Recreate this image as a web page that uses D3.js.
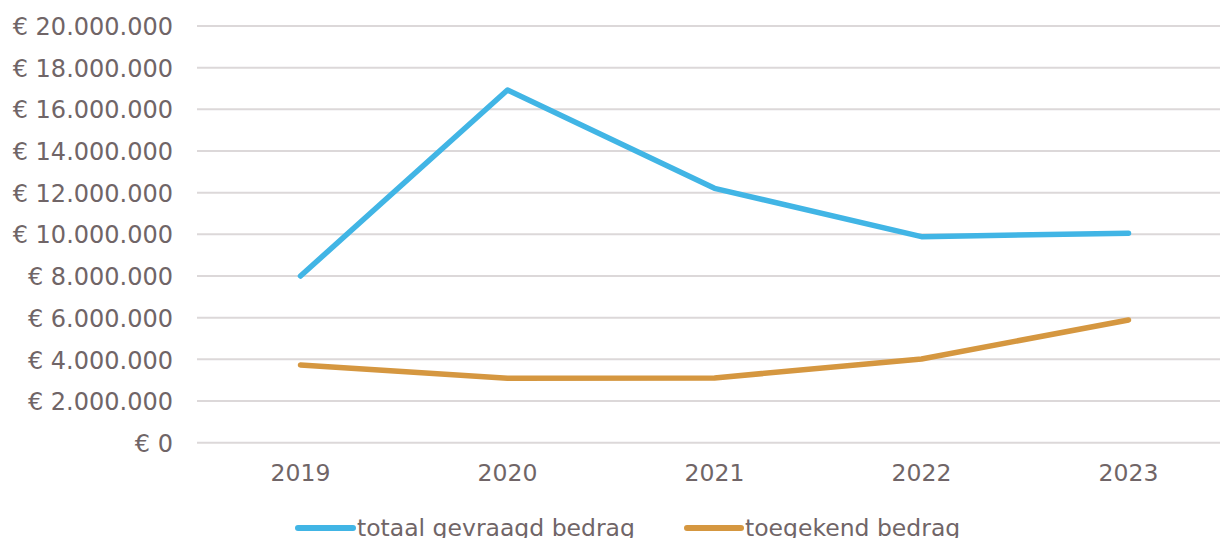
<!DOCTYPE html>
<html>
<head>
<meta charset="utf-8">
<script src="https://cdn.jsdelivr.net/npm/d3@7"></script>
<style>
  html, body { margin: 0; padding: 0; background: #fff; }
  svg { display: block; }
  text { font-family: "DejaVu Sans", Verdana, sans-serif; fill: #706567; }
</style>
</head>
<body>
<svg id="chart" width="1220" height="538"></svg>
<script>
const years = ["2019", "2020", "2021", "2022", "2023"];
const totaalGevraagd = [8000000, 16930000, 12210000, 9890000, 10050000];
const toegekend = [3730000, 3090000, 3110000, 4020000, 5890000];
const yTicks = [0, 2000000, 4000000, 6000000, 8000000, 10000000, 12000000, 14000000, 16000000, 18000000, 20000000];
const seriesNames = ["totaal gevraagd bedrag", "toegekend bedrag"];
const seriesColors = ["#41b5e5", "#d59740"];

const svg = d3.select("#chart");
const x = d3.scaleBand().domain(years).range([197, 1232]);
const y = d3.scaleLinear().domain([0, 20000000]).range([442.7, 26]);

const fmt = v => "€ " + d3.format(",")(v).replace(/,/g, ".");

// gridlines
svg.append("g").selectAll("line").data(yTicks).join("line")
  .attr("x1", 197).attr("x2", 1232)
  .attr("y1", d => y(d)).attr("y2", d => y(d))
  .attr("stroke", "#dcd8d9").attr("stroke-width", 2);

// y axis labels
const yAxis = d3.axisLeft(y).tickValues(yTicks).tickFormat(fmt).tickSize(0).tickPadding(0);
const gy = svg.append("g").attr("transform", "translate(173,0)").call(yAxis);
gy.select(".domain").remove();
gy.selectAll("text").attr("font-size", "24px").attr("dy", "0.36em")
  .style("font-family", "DejaVu Sans, Verdana, sans-serif").attr("fill", "#706567");

// x axis labels
const xAxis = d3.axisBottom(x).tickSize(0).tickPadding(0);
const gx = svg.append("g").attr("transform", "translate(0,473)").call(xAxis);
gx.select(".domain").remove();
gx.selectAll("text").attr("font-size", "23.5px").attr("dy", "0.36em")
  .style("font-family", "DejaVu Sans, Verdana, sans-serif").attr("fill", "#706567");

const cx = d => x(d) + x.bandwidth() / 2;
const line = d3.line().x((d, i) => cx(years[i])).y(d => y(d));

[totaalGevraagd, toegekend].forEach((s, i) => {
  svg.append("path").datum(s)
    .attr("d", line)
    .attr("fill", "none")
    .attr("stroke", seriesColors[i])
    .attr("stroke-width", 5.5)
    .attr("stroke-linecap", "round")
    .attr("stroke-linejoin", "round");
});

// legend
const legendItems = [
  { name: seriesNames[0], color: seriesColors[0], x1: 298, x2: 353, tx: 357 },
  { name: seriesNames[1], color: seriesColors[1], x1: 687, x2: 741, tx: 745 }
];
const lg = svg.append("g");
legendItems.forEach(it => {
  lg.append("line").attr("x1", it.x1).attr("x2", it.x2).attr("y1", 528).attr("y2", 528)
    .attr("stroke", it.color).attr("stroke-width", 6).attr("stroke-linecap", "round");
  lg.append("text").attr("x", it.tx).attr("y", 528).attr("dy", "0.36em")
    .attr("font-size", "23.5px").text(it.name);
});
</script>
</body>
</html>
